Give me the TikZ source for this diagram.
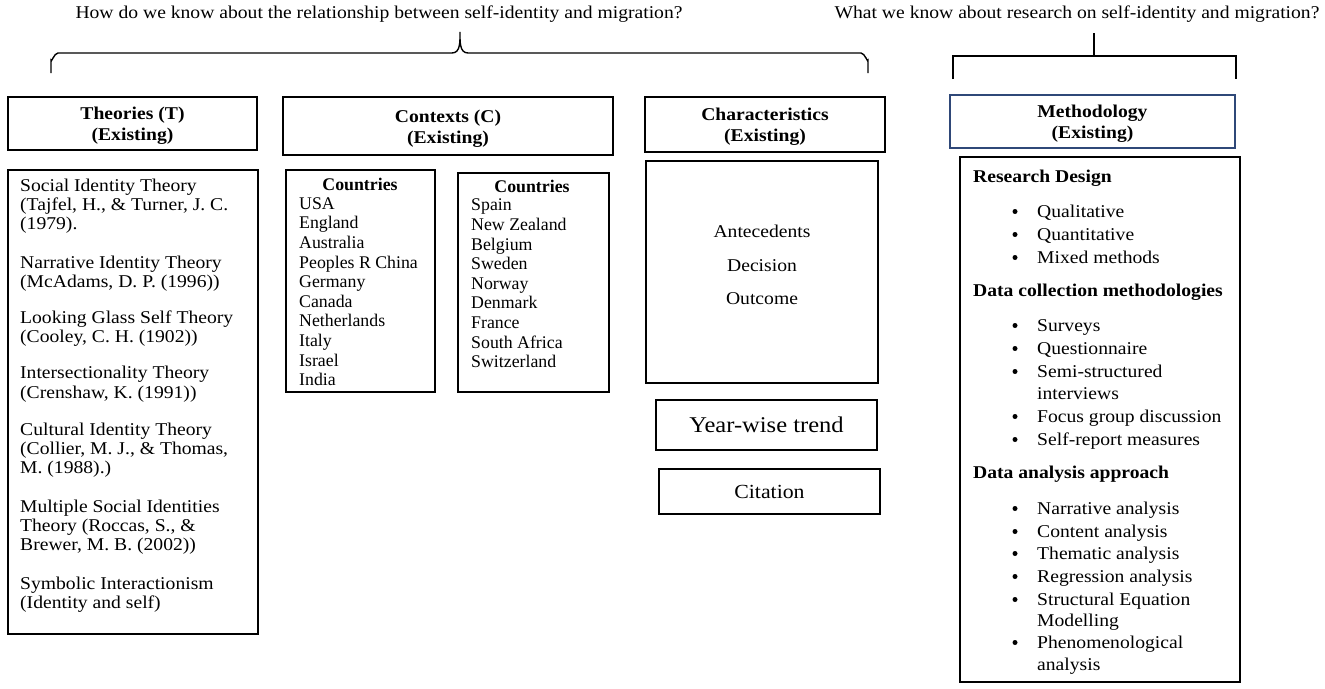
\documentclass[tikz,border=0pt]{standalone}
\usepackage{fontspec}
\setmainfont{Liberation Serif}[FakeStretch=1.09]
\newfontfamily\plainserif{Liberation Serif}
\begin{document}
\begin{tikzpicture}[x=1pt,y=-1pt,
  boxst/.style={draw=black,line width=1.3pt,inner sep=0pt},
  hdr/.style={align=center,inner sep=0pt,font=\fontsize{18}{21}\selectfont\bfseries},
  body/.style={anchor=base west,inner sep=0pt,font=\fontsize{18}{19.5}\selectfont},
  bodyc/.style={anchor=base,inner sep=0pt,font=\fontsize{18}{19.5}\selectfont},
  cbody/.style={anchor=base west,inner sep=0pt,font=\plainserif\fontsize{17.8}{19.5}\selectfont},
  bhead/.style={anchor=base west,inner sep=0pt,font=\fontsize{18}{19.5}\selectfont\bfseries},
  chead/.style={anchor=base,inner sep=0pt,font=\plainserif\fontsize{17.8}{19.5}\selectfont\bfseries},
  bul/.style={circle,fill=black,inner sep=0pt,minimum size=5pt},
  brace/.style={draw=black,line width=1.4pt}]
\useasboundingbox (0,0) rectangle (1325,688);
\newcommand\bx[7]{\node[boxst,#6,minimum width={#4-#2},minimum height={#5-#3}] (#1) at ({(#2+#4)/2},{(#3+#5)/2}) {#7};}
% titles
\node[bodyc] (q1) at (379,19) {How do we know about the relationship between self-identity and migration?};
\node[bodyc] (q2) at (1077,19) {What we know about research on self-identity and migration?};
% braces
\draw[brace] (51,73) -- (51,60) to[out=-90,in=180] (58,53) -- (452,53) to[out=0,in=-90] (460,32) to[out=-90,in=180] (468,53) -- (861,53) to[out=0,in=-90] (868,60) -- (868,73);
\coordinate (b2top) at (1094,33);
\coordinate (b2mid) at (1094,56);
\draw[brace] (b2top) -- (b2mid);
\draw[brace] (953,79) -- (953,56) -- (1236,56) -- (1236,79);
% header boxes
\bx{thh}{8}{97}{257}{150}{}{}
\bx{cxh}{283}{97}{613}{155}{}{}
\bx{chh}{645}{97}{885}{152}{}{}
\bx{mh}{950}{95}{1235}{148}{draw={rgb,255:red,47;green,72;blue,120}}{}
\node[hdr] (thht) at ([yshift=-2.5pt]thh.center) {Theories (T)\\(Existing)};
\node[hdr] (cxht) at ([yshift=-2.5pt]cxh.center) {Contexts (C)\\(Existing)};
\node[hdr] (chht) at ([yshift=-2.5pt]chh.center) {Characteristics\\(Existing)};
\node[hdr] (mht) at ([yshift=-2.5pt]mh.center) {Methodology\\(Existing)};
% content boxes
\bx{thb}{8}{170}{258}{634}{}{}
\bx{c1}{286}{170}{435}{392}{}{}
\bx{c2}{458}{173}{609}{392}{}{}
\bx{chb}{646}{161}{878}{383}{}{}
\bx{yw}{656}{400}{877}{450}{font=\fontsize{22.5}{24}\selectfont}{Year-wise trend}
\bx{ci}{659}{469}{880}{514}{font=\fontsize{20}{22}\selectfont}{Citation}
\bx{mb}{960}{157}{1240}{682}{}{}
% theories
\foreach \yy/\txt [count=\i] in {191/{Social Identity Theory},210/{(Tajfel, H., \& Turner, J. C.},229/{(1979).},
  268/{Narrative Identity Theory},287/{(McAdams, D. P. (1996))},
  323/{Looking Glass Self Theory},342/{(Cooley, C. H. (1902))},
  378/{Intersectionality Theory},398/{(Crenshaw, K. (1991))},
  435/{Cultural Identity Theory},454/{(Collier, M. J., \& Thomas,},473/{M. (1988).)},
  512/{Multiple Social Identities},531/{Theory (Roccas, S., \&},550/{Brewer, M. B. (2002))},
  589/{Symbolic Interactionism},608/{(Identity and self)}}
  {\node[body] (th\i) at (20,\yy) {\txt};}
% countries 1
\node[chead] (c1h) at (360,190) {Countries};
\foreach \yy/\txt [count=\i] in {209/USA,228/England,248/Australia,268/Peoples R China,287/Germany,307/Canada,326/Netherlands,346/Italy,366/Israel,385/India}
  {\node[cbody] (ca\i) at (299,\yy) {\txt};}
% countries 2
\node[chead] (c2h) at (532,192) {Countries};
\foreach \yy/\txt [count=\i] in {210/Spain,230/New Zealand,250/Belgium,269/Sweden,289/Norway,308/Denmark,328/France,348/South Africa,367/Switzerland}
  {\node[cbody] (cb\i) at (471,\yy) {\txt};}
% characteristics
\node[bodyc] (ant) at (762,237) {Antecedents};
\node[bodyc] (dec) at (762,271) {Decision};
\node[bodyc] (out) at (762,304) {Outcome};
% methodology
\node[bhead] (rd) at (973,182) {Research Design};
\node[bhead] (dc) at (973,296) {Data collection methodologies};
\node[bhead] (da) at (973,478) {Data analysis approach};
\foreach \yy/\txt/\bb [count=\i] in {217/Qualitative/1,240/Quantitative/1,263/Mixed methods/1,
  331/Surveys/1,354/Questionnaire/1,377/Semi-structured/1,399/interviews/0,422/Focus group discussion/1,445/Self-report measures/1,
  514/Narrative analysis/1,537/Content analysis/1,559/Thematic analysis/1,582/Regression analysis/1,605/Structural Equation/1,626/Modelling/0,648/Phenomenological/1,670/analysis/0}
  {\node[body] (m\i) at (1037,\yy) {\txt};
   \ifnum\bb=1 \node[bul] (mb\i) at (1015,\yy-5.5) {};\fi}
\end{tikzpicture}
\end{document}
